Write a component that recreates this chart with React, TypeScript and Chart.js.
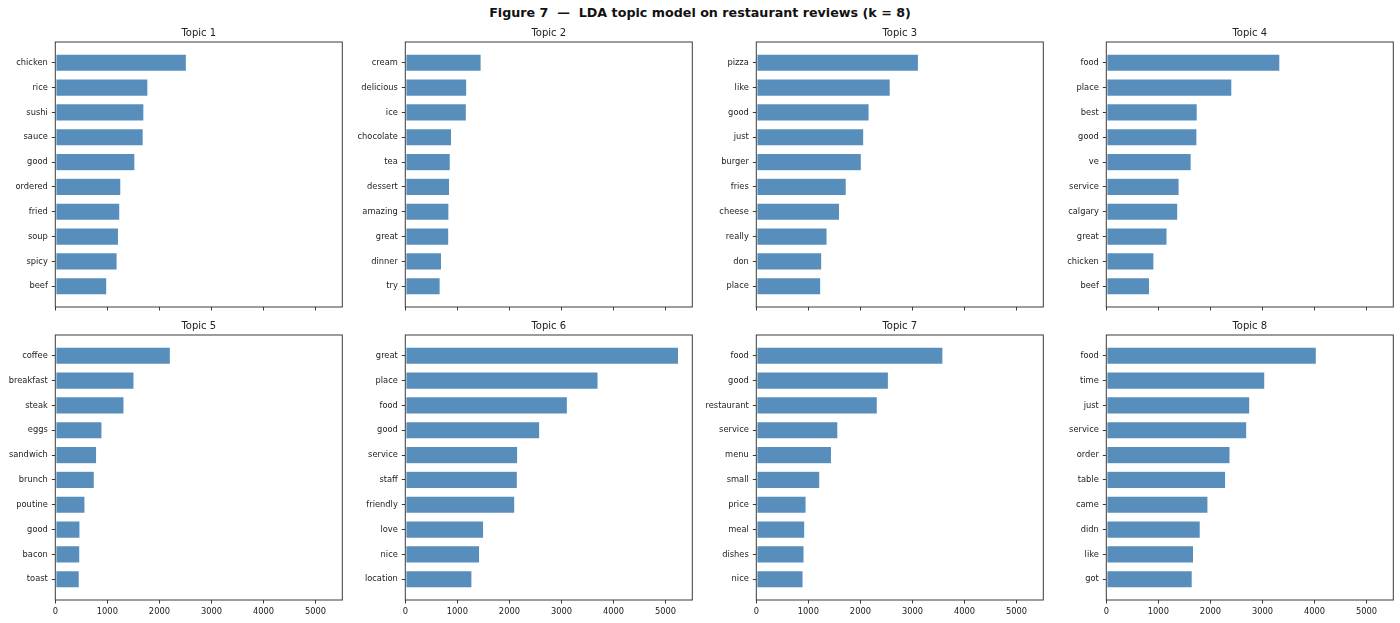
import { useEffect, useRef } from "react";
import { Chart, registerables } from "chart.js";
Chart.register(...registerables);

const topicTitles = ["Topic 1", "Topic 2", "Topic 3", "Topic 4", "Topic 5", "Topic 6", "Topic 7", "Topic 8"];

const topic1Words = ["chicken", "rice", "sushi", "sauce", "good", "ordered", "fried", "soup", "spicy", "beef"];
const topic1Values = [2519, 1780, 1703, 1690, 1530, 1260, 1240, 1215, 1189, 990];

const topic2Words = ["cream", "delicious", "ice", "chocolate", "tea", "dessert", "amazing", "great", "dinner", "try"];
const topic2Values = [1458, 1181, 1174, 890, 865, 852, 839, 836, 697, 671];

const topic3Words = ["pizza", "like", "good", "just", "burger", "fries", "cheese", "really", "don", "place"];
const topic3Values = [3116, 2574, 2168, 2065, 2019, 1729, 1600, 1361, 1258, 1239];

const topic4Words = ["food", "place", "best", "good", "ve", "service", "calgary", "great", "chicken", "beef"];
const topic4Values = [3335, 2413, 1748, 1742, 1632, 1400, 1374, 1168, 916, 832];

const topic5Words = ["coffee", "breakfast", "steak", "eggs", "sandwich", "brunch", "poutine", "good", "bacon", "toast"];
const topic5Values = [2212, 1513, 1321, 898, 795, 750, 571, 475, 472, 462];

const topic6Words = ["great", "place", "food", "good", "service", "staff", "friendly", "love", "nice", "location"];
const topic6Values = [5250, 3704, 3115, 2583, 2160, 2154, 2104, 1506, 1429, 1281];

const topic7Words = ["food", "good", "restaurant", "service", "menu", "small", "price", "meal", "dishes", "nice"];
const topic7Values = [3586, 2539, 2326, 1568, 1446, 1221, 958, 932, 919, 900];

const topic8Words = ["food", "time", "just", "service", "order", "table", "came", "didn", "like", "got"];
const topic8Values = [4036, 3046, 2757, 2699, 2378, 2294, 1954, 1806, 1677, 1652];

const xTicks = [0, 1000, 2000, 3000, 4000, 5000];
const xMax = 5513;

const FONT = "'DejaVu Sans', sans-serif";
const INK = "#222";
const SPINE = "#3a3a3a";

// spines on all four sides, plus the panel title centred over the plot area
const frame = {
  id: "frame",
  afterDraw(chart: any) {
    const { ctx, chartArea } = chart;
    ctx.save();
    ctx.strokeStyle = SPINE;
    ctx.lineWidth = 1;
    ctx.strokeRect(chartArea.left, chartArea.top, chartArea.right - chartArea.left, chartArea.bottom - chartArea.top);
    ctx.fillStyle = INK;
    ctx.font = `10px ${FONT}`;
    ctx.textAlign = "center";
    ctx.textBaseline = "middle";
    ctx.fillText(chart.options.plugins.panelTitle.text, (chartArea.left + chartArea.right) / 2, chartArea.top - 9);
    ctx.restore();
  },
};

type PanelProps = {
  title: string;
  words: string[];
  values: number[];
  left: number;
  top: number;
  bottomRow: boolean;
};

function Panel({ title, words, values, left, top, bottomRow }: PanelProps) {
  const canvasRef = useRef<HTMLCanvasElement>(null);
  const chartInstance = useRef<Chart | null>(null);
  const axisH = bottomRow ? 23 : 10;
  const height = 15 + 265 + axisH;

  useEffect(() => {
    if (!canvasRef.current) return;
    if (chartInstance.current) chartInstance.current.destroy();

    chartInstance.current = new Chart(canvasRef.current, {
      type: "bar",
      data: {
        datasets: [{
          data: values.map((v, i) => ({ x: v, y: i })),
          backgroundColor: "rgba(70,130,180,0.9)",
          borderColor: "rgba(255,255,255,0.9)",
          borderWidth: 0.6,
          borderSkipped: false,
          barPercentage: 0.7,
          categoryPercentage: 1,
        }],
      },
      options: {
        indexAxis: "y",
        responsive: false,
        animation: false,
        layout: { padding: { left: 0, right: 7.7, top: 15, bottom: 0 } },
        plugins: {
          legend: { display: false },
          tooltip: { enabled: false },
          title: { display: false },
          panelTitle: { text: title },
        } as any,
        scales: {
          x: {
            type: "linear",
            min: 0,
            max: xMax,
            offset: false,
            afterBuildTicks: (axis: any) => { axis.ticks = xTicks.map((v) => ({ value: v })); },
            afterFit: (axis: any) => { axis.height = axisH; },
            ticks: {
              display: bottomRow,
              color: INK,
              font: { family: FONT, size: 8.3 },
              padding: 3,
              maxRotation: 0,
              autoSkip: false,
              callback: (v: any) => String(v),
            },
            grid: { offset: false, drawOnChartArea: false, drawTicks: true, tickLength: 3.5, color: SPINE },
            border: { display: false },
          },
          y: {
            type: "linear",
            reverse: true,
            offset: false,
            min: -0.835,
            max: 9.835,
            afterBuildTicks: (axis: any) => { axis.ticks = words.map((_, i) => ({ value: i })); },
            afterFit: (axis: any) => { axis.width = 55.3; },
            ticks: {
              color: INK,
              font: { family: FONT, size: 8.3 },
              padding: 4,
              autoSkip: false,
              callback: (v: any) => words[Math.round(Number(v))],
            },
            grid: { offset: false, drawOnChartArea: false, drawTicks: true, tickLength: 3.5, color: SPINE },
            border: { display: false },
          },
        },
      },
      plugins: [frame],
    });

    return () => { chartInstance.current?.destroy(); };
  }, []);

  return (
    <div style={{ position: "absolute", left, top, width: 350, height }}>
      <canvas ref={canvasRef} width={350} height={height} style={{ width: 350, height }}></canvas>
    </div>
  );
}

const allWords = [topic1Words, topic2Words, topic3Words, topic4Words, topic5Words, topic6Words, topic7Words, topic8Words];
const allValues = [topic1Values, topic2Values, topic3Values, topic4Values, topic5Values, topic6Values, topic7Values, topic8Values];

export default function App() {
  useEffect(() => {
    document.body.style.margin = "0";
  }, []);

  const plotLefts = [55.3, 405.7, 756, 1106.3];

  return (
    <div style={{ position: "relative", width: 1400, height: 623, background: "#fff", overflow: "hidden" }}>
      <div
        style={{
          position: "absolute",
          left: 0,
          top: 4,
          width: 1400,
          textAlign: "center",
          fontFamily: FONT,
          fontWeight: "bold",
          fontSize: 12.7,
          lineHeight: "17px",
          color: "#111",
          whiteSpace: "pre",
        }}
      >
        {"Figure 7  \u2014  LDA topic model on restaurant reviews (k = 8)"}
      </div>
      {topicTitles.map((t, i) => (
        <Panel
          key={t}
          title={t}
          words={allWords[i]}
          values={allValues[i]}
          left={plotLefts[i % 4] - 55.3}
          top={i < 4 ? 26.7 : 320}
          bottomRow={i >= 4}
        />
      ))}
    </div>
  );
}
